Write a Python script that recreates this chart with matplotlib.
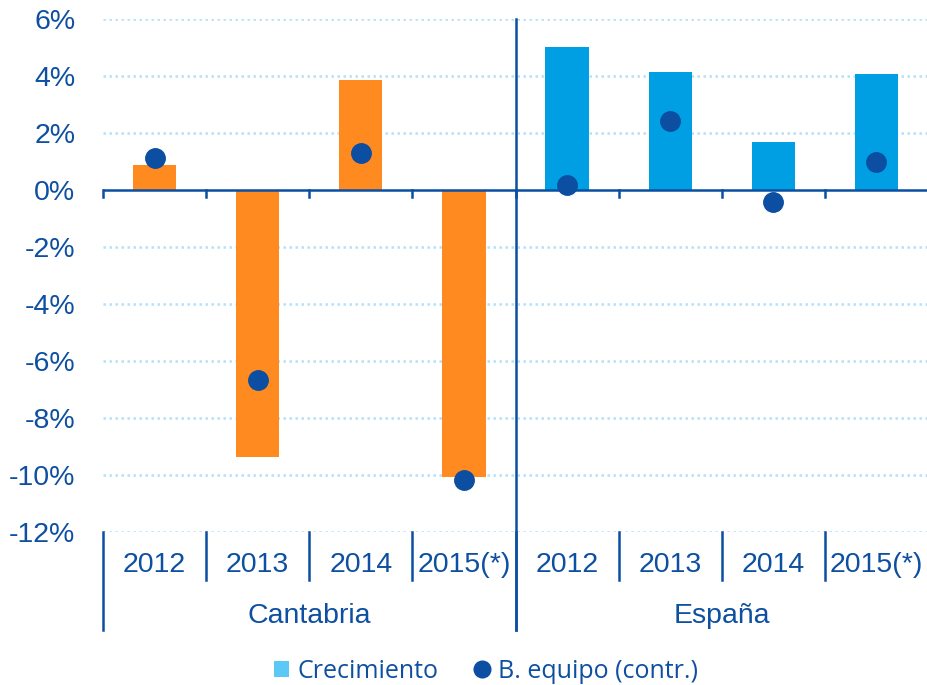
import numpy as np
import matplotlib
matplotlib.use("Agg")
import matplotlib.pyplot as plt
from matplotlib.lines import Line2D
from matplotlib.patches import Patch

# data ------------------------------------------------------------
groups = ["Cantabria", "España"]
years = ["2012", "2013", "2014", "2015(*)"]
crec_cantabria = [0.88, -9.37, 3.86, -10.07]
crec_espana = [5.02, 4.14, 1.68, 4.07]
equipo_cantabria = [1.12, -6.67, 1.30, -10.18]
equipo_espana = [0.18, 2.42, -0.42, 0.98]
yticks = [-12, -10, -8, -6, -4, -2, 0, 2, 4, 6]

# colours
TXT = "#0D4FA0"
ORANGE = "#FF8A1F"
BLUE = "#009FE3"
DOT = "#0B4EA2"
GRID = "#B5E1F7"

plt.rcParams["font.family"] = ["Liberation Sans", "DejaVu Sans"]

fig = plt.figure(figsize=(9.28, 6.85), dpi=100)
ax = fig.add_axes([103 / 928, 1 - 532 / 685, (928 - 103) / 928, (532 - 19) / 685])

n = len(years)
x = np.arange(2 * n) + 0.5
crec = crec_cantabria + crec_espana
equipo = equipo_cantabria + equipo_espana
colors = [ORANGE] * n + [BLUE] * n

for y in yticks:
    if y != 0:
        ax.axhline(y, color=GRID, lw=1.8, ls=(0, (1, 1.4)), zorder=0)

ax.bar(x, crec, width=0.42, color=colors, zorder=2)
ax.plot(x, equipo, "o", color=DOT, ms=14, zorder=3)

ax.set_xlim(0, 2 * n)
ax.set_ylim(-12, 6)
for s in ax.spines.values():
    s.set_visible(False)
ax.set_xticks([])
ax.set_yticks(yticks)
ax.set_yticklabels([f"{t}%" for t in yticks])
ax.tick_params(axis="y", length=0, pad=20, labelsize=20.5, labelcolor=TXT)

# zero line with small ticks
ax.axhline(0, color=DOT, lw=1.8, zorder=4)
for b in range(2 * n + 1):
    ax.plot([b, b], [0, -0.25], color=DOT, lw=1.8, zorder=4, clip_on=False)

# divider between groups
ax.plot([n, n], [6, -15.45], color=DOT, lw=1.8, zorder=4, clip_on=False)

# category axis below
for b in range(2 * n + 1):
    low = -15.45 if b % n == 0 else -13.7
    ax.plot([b, b], [-12, low], color=DOT, lw=1.8, clip_on=False)
for i, xi in enumerate(x):
    ax.text(xi, -13.15, years[i % n], ha="center", va="center",
            fontsize=20.5, color=TXT, clip_on=False)
for g, name in enumerate(groups):
    ax.text(g * n + n / 2, -14.95, name, ha="center", va="center",
            fontsize=20.5, color=TXT, clip_on=False)

# legend
handles = [Patch(facecolor="#5BC8F5", edgecolor="none"),
           Line2D([], [], marker="o", ls="none", color=DOT, ms=12)]
fig.legend(handles, ["Crecimiento", "B. equipo (contr.)"],
           loc="center", bbox_to_anchor=(486 / 928, 1 - 671 / 685),
           ncol=2, frameon=False, handlelength=0.6, handleheight=0.6,
           handletextpad=0.35, columnspacing=1.45,
           prop={"family": "Open Sans", "size": 18}, labelcolor=TXT)

fig.savefig("out.png", dpi=100)
